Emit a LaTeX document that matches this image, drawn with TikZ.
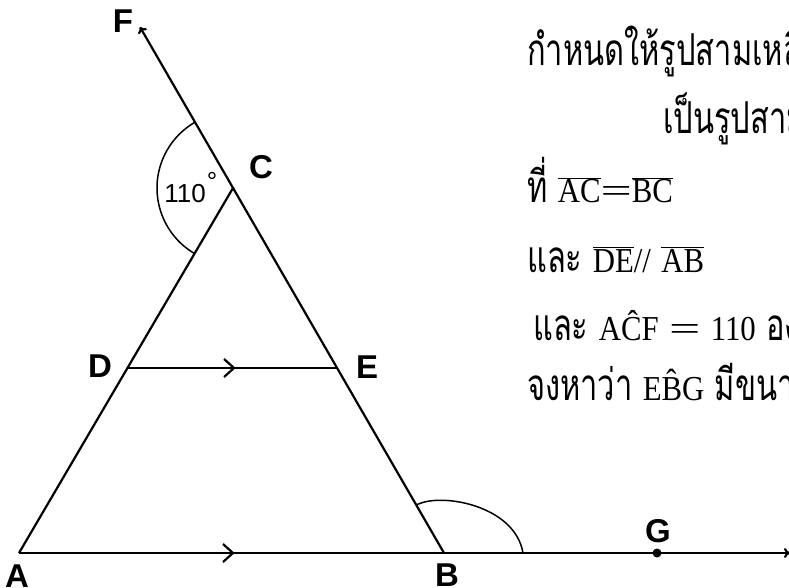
\documentclass[tikz,border=0pt]{standalone}
\usepackage{fontspec}
\setmainfont{Liberation Serif}
\newfontfamily\thaifont[Script=Thai,FakeStretch=0.7]{Loma}
\newfontfamily\latfont[FakeStretch=0.88]{Liberation Serif}
\newfontfamily\labfont{Liberation Sans}
\usetikzlibrary{arrows.meta}
\newcommand{\lt}[1]{{\fontsize{35}{38}\selectfont\latfont #1}}
\newcommand{\ol}[1]{{\fontsize{35}{38}\selectfont$\overline{\hbox{\latfont #1}}$}}
\newcommand{\weq}{{\fontsize{35}{38}\selectfont\scalebox{1.8}[1]{\latfont =}}}
\begin{document}
\begin{tikzpicture}[x=1pt,y=-1pt,
  mainline/.style={line width=2.2pt},
  anglearc/.style={line width=1.5pt},
  chev/.style={line width=2.2pt},
  lab/.style={font=\labfont\bfseries\fontsize{33}{33}\selectfont, inner sep=0pt},
  txt/.style={anchor=base west, inner sep=0pt, font=\fontsize{44}{48}\selectfont\thaifont}]
\useasboundingbox (0,0) rectangle (789,588);
\coordinate (A) at (19,553);
\coordinate (B) at (444,553);
\coordinate (C) at (233,188);
\coordinate (D) at (127.5,368);
\coordinate (E) at (337.5,368);
\coordinate (F) at (140,27);
\coordinate (G) at (657,553);
\coordinate (R) at (790,553);
\coordinate (M1) at (234,368);
\coordinate (M2) at (233,553);
\coordinate (P1) at (416.5,505);
\coordinate (P2) at (523,553);
% lines
\draw[mainline] (A) -- (C);
\draw[mainline, -{To[length=6pt,width=10pt]}] (B) -- (F);
\draw[mainline, -{To[length=6pt,width=10pt]}] (A) -- (R);
\draw[mainline] (D) -- (E);
\draw[chev] (M1) ++(-10,-9) -- (M1) -- ++(-10,9);
\draw[chev] (M2) ++(-10,-9) -- (M2) -- ++(-10,9);
% angle arcs
\draw[anglearc] (C) ++(120:76) arc[start angle=120, end angle=240, radius=76];
\draw[anglearc] (P1) .. controls (440,492) and (515,505) .. (P2);
\fill (G) circle[radius=4.5];
% labels
\node[lab] (lF) at (123,21) {F};
\node[lab] (lC) at (261,167) {C};
\node[lab] (lD) at (100,366) {D};
\node[lab] (lE) at (367,367) {E};
\node[lab] (lA) at (17,576) {A};
\node[lab] (lB) at (447,575) {B};
\node[lab] (lG) at (658,531) {G};
\node[inner sep=0pt, font=\labfont\fontsize{26}{26}\selectfont] (l110) at (185,194) {110};
\node[inner sep=0pt, font=\labfont\fontsize{26}{26}\selectfont] (ldeg) at (212,181) {°};
% text
\node[txt] (t1) at (527,66) {กำหนดให้รูปสามเหลี่ยม};
\node[txt] (t2) at (663,134) {เป็นรูปสามเหลี่ยม};
\node[txt] (t3) at (527,203) {ที่ \ol{AC}\weq\ol{BC}};
\node[txt] (t4) at (527,272) {และ \ol{DE}\lt{//} \ol{AB}};
\node[txt] (t5) at (533,340) {และ \lt{A\^CF} \weq{} \lt{110} องศา};
\node[txt] (t6) at (527,400) {จงหาว่า \lt{E\^BG} มีขนาด};
\end{tikzpicture}
\end{document}
